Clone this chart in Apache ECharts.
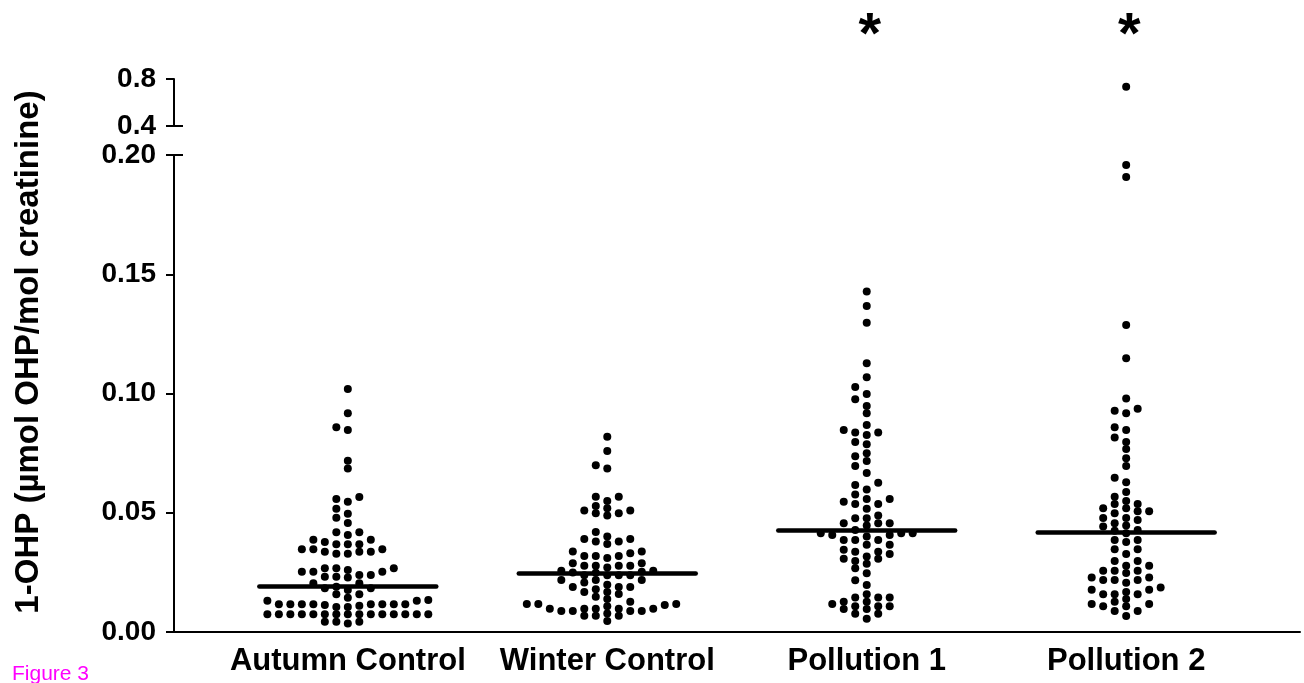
<!DOCTYPE html>
<html>
<head>
<meta charset="utf-8">
<script src="https://cdn.jsdelivr.net/npm/echarts@6/dist/echarts.min.js"></script>
<style>
  html, body { margin: 0; padding: 0; background: #fff; }
  #chart { width: 1304px; height: 683px; }
</style>
</head>
<body>
<div id="chart"></div>
<script>
// groups along x
var groups = ['Autumn Control', 'Winter Control', 'Pollution 1', 'Pollution 2'];

// 1-OHP values (µmol OHP/mol creatinine)
var autumn = [0.1019, 0.0917, 0.0858, 0.0847, 0.0718, 0.0686,
  0.0566, 0.0558, 0.0546, 0.0517, 0.0496, 0.0479, 0.0457,
  0.0418, 0.0418, 0.0407, 0.0387, 0.0387, 0.0377,
  0.0368, 0.0368, 0.0368, 0.0347, 0.0347, 0.0347, 0.0337, 0.0337, 0.0337, 0.0328, 0.0328,
  0.0267, 0.0267, 0.0267, 0.0260, 0.0253, 0.0253, 0.0253, 0.0239, 0.0239, 0.0232, 0.0232, 0.0228,
  0.0204, 0.0204, 0.0190, 0.0183, 0.0183, 0.0176,
  0.0158, 0.0158, 0.0144, 0.0134, 0.0131, 0.0131,
  0.0116, 0.0116, 0.0116, 0.0116, 0.0116, 0.0116, 0.0116, 0.0116, 0.0113, 0.0110, 0.0105, 0.0105,
  0.0074, 0.0074, 0.0074, 0.0074, 0.0074, 0.0074, 0.0074, 0.0074, 0.0074, 0.0074, 0.0074, 0.0074, 0.0074, 0.0074, 0.0074,
  0.0043, 0.0043, 0.0043, 0.0036];

var winter = [0.0819, 0.0759, 0.0699, 0.0686,
  0.0567, 0.0567, 0.0549,
  0.0528, 0.0519, 0.0509, 0.0509, 0.0498, 0.0498, 0.0488,
  0.0419,
  0.0400, 0.0390, 0.0390, 0.0379, 0.0379, 0.0369,
  0.0338, 0.0338, 0.0330, 0.0319, 0.0319, 0.0319, 0.0310,
  0.0288, 0.0288, 0.0278, 0.0278, 0.0278, 0.0278, 0.0270,
  0.0257, 0.0257, 0.0253, 0.0250, 0.0248, 0.0238, 0.0238, 0.0238, 0.0238,
  0.0218, 0.0218, 0.0218, 0.0208, 0.0198,
  0.0189, 0.0189, 0.0189, 0.0179, 0.0168, 0.0168, 0.0159, 0.0148,
  0.0138, 0.0127, 0.0117, 0.0117, 0.0117, 0.0113, 0.0108,
  0.0098, 0.0098, 0.0098, 0.0098, 0.0098,
  0.0088, 0.0088, 0.0088, 0.0088, 0.0078,
  0.0068, 0.0068, 0.0068, 0.0046];

var pollution1 = [0.1428, 0.1367, 0.1297, 0.1127, 0.1068, 0.1027, 0.0998, 0.0976, 0.0948, 0.0917,
  0.0868, 0.0847, 0.0837, 0.0837, 0.0826, 0.0797, 0.0787, 0.0749, 0.0737, 0.0717,
  0.0696, 0.0667, 0.0626, 0.0616, 0.0597, 0.0577, 0.0558, 0.0558, 0.0546, 0.0537,
  0.0537, 0.0517, 0.0488, 0.0477, 0.0477, 0.0456, 0.0456, 0.0456, 0.0447, 0.0428,
  0.0414, 0.0414, 0.0414, 0.0407, 0.0407, 0.0400, 0.0386, 0.0386, 0.0386, 0.0366,
  0.0366, 0.0345, 0.0337, 0.0337, 0.0327, 0.0317, 0.0307, 0.0307, 0.0298, 0.0286,
  0.0267, 0.0246, 0.0217, 0.0197, 0.0158, 0.0145, 0.0145, 0.0145, 0.0127, 0.0127,
  0.0117, 0.0108, 0.0108, 0.0108, 0.0096, 0.0096, 0.0077, 0.0077, 0.0056];

var pollution2 = [0.734, 0.1958, 0.1908, 0.1287, 0.1148, 0.0979, 0.0936, 0.0928, 0.0917, 0.0858,
  0.0847, 0.0816, 0.0797, 0.0767, 0.0728, 0.0696, 0.0647, 0.0628, 0.0587, 0.0567,
  0.0549, 0.0537, 0.0537, 0.0519, 0.0519, 0.0506, 0.0506, 0.0498, 0.0478, 0.0478,
  0.0470, 0.0456, 0.0447, 0.0442, 0.0428, 0.0425, 0.0414, 0.0386, 0.0386, 0.0377,
  0.0347, 0.0347, 0.0327, 0.0298, 0.0298, 0.0278, 0.0278, 0.0257, 0.0257, 0.0257,
  0.0247, 0.0228, 0.0228, 0.0218, 0.0218, 0.0218, 0.0207, 0.0187, 0.0177, 0.0177,
  0.0168, 0.0158, 0.0158, 0.0158, 0.0138, 0.0127, 0.0117, 0.0117, 0.0108, 0.0108,
  0.0088, 0.0088, 0.0067];

var medians = [0.0192, 0.0247, 0.0426, 0.0418];
var starred = ['Pollution 1', 'Pollution 2'];

// broken y axis: lower and upper segment
var lowRange = [0, 0.2];
var highRange = [0.4, 0.8];

var allGroups = [autumn, winter, pollution1, pollution2];
var font = '"Liberation Sans", Arial, Helvetica, sans-serif';

var lowTop = 155, lowHeight = 477;
var colStep = 0.0443;   // one dot column, in x units
var minGap = 7;         // px between dots in the same column

// simple beeswarm: each dot takes the nearest free column, alternating sides
function swarm(vals, pxPerUnit) {
  var sorted = vals.slice().sort(function (a, b) { return a - b; });
  var cols = {};
  var out = [];
  sorted.forEach(function (v) {
    var y = v * pxPerUnit;
    for (var k = 0; k < 60; k++) {
      var c = k === 0 ? 0 : (k % 2 ? -Math.ceil(k / 2) : k / 2);
      var list = cols[c] || (cols[c] = []);
      var free = list.every(function (p) { return Math.abs(p - y) >= minGap; });
      if (free) { list.push(y); out.push([c, v]); break; }
    }
  });
  return out;
}

var lowDots = [], highDots = [];
var pxPerUnit = lowHeight / (lowRange[1] - lowRange[0]);
allGroups.forEach(function (vals, gi) {
  var low = vals.filter(function (v) { return v <= lowRange[1]; });
  var high = vals.filter(function (v) { return v > lowRange[1]; });
  swarm(low, pxPerUnit).forEach(function (d) {
    lowDots.push([gi + 1 + d[0] * colStep, d[1]]);
  });
  high.forEach(function (v) { highDots.push([gi + 1, v]); });
});

var medianLines = medians.map(function (m, i) {
  return { coords: [[i + 1 - 0.341, m], [i + 1 + 0.341, m]] };
});

var chart = echarts.init(document.getElementById('chart'));

var tickLabel = { color: '#000', fontSize: 28, fontWeight: 'bold', fontFamily: font, margin: 18 };
var dotStyle = { color: '#000', opacity: 1 };

chart.setOption({
  animation: false,
  backgroundColor: '#fff',
  grid: [
    { left: 174, right: 4, top: 79, height: 47 },
    { left: 174, right: 4, top: lowTop, height: lowHeight }
  ],
  xAxis: [
    { gridIndex: 0, type: 'value', min: 0.33, max: 4.67, show: false },
    {
      gridIndex: 1, type: 'value', min: 0.33, max: 4.67,
      axisLine: { show: true, lineStyle: { color: '#000', width: 2 } },
      axisTick: { show: false },
      splitLine: { show: false },
      axisLabel: {
        customValues: [1, 2, 3, 4],
        formatter: function (v) { return groups[Math.round(v) - 1]; },
        color: '#000', fontSize: 31, fontWeight: 'bold', fontFamily: font, margin: 14
      }
    }
  ],
  yAxis: [
    {
      gridIndex: 0, type: 'value', position: 'left', min: highRange[0], max: highRange[1], interval: 0.4,
      axisLine: { show: true, lineStyle: { color: '#000', width: 2 } },
      axisTick: { show: true, length: 8, lineStyle: { width: 2, color: '#000' } },
      splitLine: { show: false },
      axisLabel: Object.assign({ formatter: function (v) { return v.toFixed(1); } }, tickLabel)
    },
    {
      gridIndex: 0, type: 'value', position: 'left', min: highRange[0], max: highRange[1],
      axisLine: { show: false }, splitLine: { show: false }, axisLabel: { show: false },
      axisTick: { show: true, inside: true, length: 9, customValues: [highRange[0]], lineStyle: { width: 2, color: '#000' } }
    },
    {
      gridIndex: 1, type: 'value', position: 'left', min: lowRange[0], max: lowRange[1], interval: 0.05,
      axisLine: { show: true, lineStyle: { color: '#000', width: 2 } },
      axisTick: { show: true, length: 8, lineStyle: { width: 2, color: '#000' } },
      splitLine: { show: false },
      axisLabel: Object.assign({ formatter: function (v) { return v.toFixed(2); } }, tickLabel)
    },
    {
      gridIndex: 1, type: 'value', position: 'left', min: lowRange[0], max: lowRange[1],
      axisLine: { show: false }, splitLine: { show: false }, axisLabel: { show: false },
      axisTick: { show: true, inside: true, length: 9, customValues: [lowRange[1]], lineStyle: { width: 2, color: '#000' } }
    }
  ],
  series: [
    {
      type: 'scatter', xAxisIndex: 1, yAxisIndex: 2, data: lowDots,
      symbolSize: 8, itemStyle: dotStyle, silent: true, z: 2
    },
    {
      type: 'scatter', xAxisIndex: 0, yAxisIndex: 0, data: highDots,
      symbolSize: 8, itemStyle: dotStyle, silent: true, z: 2
    },
    {
      type: 'lines', coordinateSystem: 'cartesian2d', xAxisIndex: 1, yAxisIndex: 2,
      data: medianLines, lineStyle: { color: '#000', width: 4.5, cap: 'round', opacity: 1 },
      silent: true, z: 3
    }
  ]
});

// significance stars, y-axis title and figure tag
var graphics = starred.map(function (name) {
  var px = chart.convertToPixel({ xAxisIndex: 1 }, groups.indexOf(name) + 1);
  return {
    type: 'text', x: px + 3, y: 37,
    style: { text: '*', fill: '#000', font: 'bold 58px ' + font, align: 'center', verticalAlign: 'middle' }
  };
});
graphics.push({
  type: 'text', x: 29, y: 352, rotation: Math.PI / 2,
  style: { text: '1-OHP (µmol OHP/mol creatinine)', fill: '#000', font: 'bold 33px ' + font, align: 'center', verticalAlign: 'middle' }
});
graphics.push({
  type: 'text', x: 12, y: 674,
  style: { text: 'Figure 3', fill: '#ff00ff', font: '21px ' + font, align: 'left', verticalAlign: 'middle' }
});
chart.setOption({ graphic: graphics });
</script>
</body>
</html>
